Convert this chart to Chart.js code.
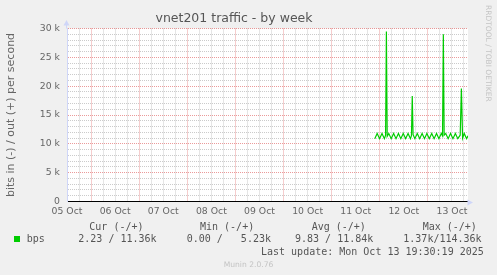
<!DOCTYPE html>
<html><head><meta charset="utf-8">
<script src="https://cdn.jsdelivr.net/npm/chart.js@4.4.1/dist/chart.umd.min.js"></script>
<style>
html,body{margin:0;padding:0;background:#f0f0f0;}
#wrap{position:relative;width:497px;height:275px;overflow:hidden;background:#f0f0f0;}
#c{position:absolute;left:0;top:0;}
.m{position:absolute;white-space:pre;font-family:"DejaVu Sans Mono",monospace;font-size:10px;line-height:12px;color:#555;}
.side{position:absolute;white-space:pre;font-family:"DejaVu Sans",sans-serif;font-size:7.5px;line-height:9px;color:#c4c4c4;}
</style></head><body>
<div id="wrap">
<canvas id="c" width="497" height="275"></canvas>
<div id="legend"></div>
<div class="side" id="rrd" style="left:484px;top:5px;writing-mode:vertical-rl;">RRDTOOL / TOBI OETIKER</div>
<div class="side" id="munin" style="left:0;width:497px;text-align:center;top:259.5px;font-size:7.6px;">Munin 2.0.76</div>
</div>
<script>
// ---- data ----
const chartTitle = 'vnet201 traffic - by week';
const yAxisTitle = 'bits in (-) / out (+) per second';
const dayLabels = ['05 Oct','06 Oct','07 Oct','08 Oct','09 Oct','10 Oct','11 Oct','12 Oct','13 Oct'];
// hours since 05 Oct 00:00
const hours = [165.5,166.7,167.9,169.1,170.3,170.9,171.3,171.7,172.5,173.7,174.9,176.1,177.3,178.5,179.7,180.9,182.1,183.3,183.8,184.2,184.6,185.5,186.7,187.9,189.1,190.3,191.5,192.7,193.9,195.1,196.3,197.5,198.7,199.3,199.7,200.1,200.9,202.1,203.3,204.5,205.7,206.9,208.1,208.7,209.3,210.1,211.3,212.0];
const outBps = [10900,11800,10900,11800,10900,11500,29500,11300,11800,10900,11800,10900,11800,10900,11800,10900,11800,10900,11400,18300,11600,10900,11800,10900,11800,10900,11800,10900,11800,10900,11800,10900,11800,11400,29000,11500,11800,10900,11800,10900,11800,10900,11500,19600,11000,11800,10900,11400];
const legendHeaders = ['Cur (-/+)','Min (-/+)','Avg (-/+)','Max (-/+)'];
const legendSeries = 'bps';
const legendValues = ['2.23 / 11.36k','0.00 /   5.23k','9.83 / 11.84k','1.37k/114.36k'];
const lastUpdate = 'Last update: Mon Oct 13 19:30:19 2025';

// ---- legend (html text) ----
const headerX = [89.3, 200, 311.7, 422.7];
const valueX = [78.3, 186.7, 295, 403.3];
let html = '';
legendHeaders.forEach((h,i)=>{ html += `<div class="m" style="left:${headerX[i]}px;top:221.3px">${h}</div>`; });
html += `<div style="position:absolute;left:14px;top:236px;width:6px;height:6px;background:#00cc00"></div>`;
html += `<div class="m" style="left:26.7px;top:233.3px">${legendSeries}</div>`;
legendValues.forEach((v,i)=>{ html += `<div class="m" style="left:${valueX[i]}px;top:233.3px">${v}</div>`; });
html += `<div class="m" style="left:261px;top:245.7px">${lastUpdate}</div>`;
document.getElementById('legend').innerHTML = html;

// ---- chart ----
const RED = 'rgba(210,30,30,0.45)';
const GREY = 'rgba(130,130,130,0.42)';
const AXIS = '#CFD6F8';
const FONT = '#666666';

const decor = {
  id:'decor',
  beforeDraw(chart){
    const {ctx, chartArea:a} = chart;
    ctx.save(); ctx.fillStyle='#ffffff';
    ctx.fillRect(a.left, a.top, a.right-a.left, a.bottom-a.top);
    ctx.restore();
  },
  afterDraw(chart){
    const {ctx, chartArea:a} = chart;
    ctx.save();
    ctx.strokeStyle = AXIS; ctx.fillStyle = AXIS; ctx.lineWidth = 1;
    const lx = Math.round(a.left)-0.5;
    ctx.beginPath(); ctx.moveTo(lx, a.top); ctx.lineTo(lx, 23); ctx.stroke();
    ctx.beginPath(); ctx.moveTo(lx-3, 25.5); ctx.lineTo(lx+3, 25.5); ctx.lineTo(lx, 20); ctx.closePath(); ctx.fill();
    const by = Math.round(a.bottom)+0.5;
    ctx.beginPath(); ctx.moveTo(a.right, by); ctx.lineTo(470, by); ctx.stroke();
    ctx.beginPath(); ctx.moveTo(467.5, by-3); ctx.lineTo(467.5, by+3); ctx.lineTo(473, by); ctx.closePath(); ctx.fill();
    ctx.restore();
  }
};

new Chart(document.getElementById('c'), {
  type:'line',
  data:{ datasets:[{
    label: legendSeries,
    data: hours.map((h,i)=>({x:h, y:outBps[i]})),
    borderColor:'#00cc00', borderWidth:1.2, pointRadius:0, tension:0, fill:false
  }]},
  options:{
    responsive:false, animation:false, devicePixelRatio:1,
    layout:{ padding:{left:0, right:29, top:0, bottom:0} },
    plugins:{
      legend:{display:false}, tooltip:{enabled:false},
      title:{ display:true, text:chartTitle, color:'#555',
        font:{family:'DejaVu Sans', size:12.5, weight:'normal'}, padding:{top:11.5, bottom:2} }
    },
    scales:{
      x:{ type:'linear', min:12, max:212,
        afterBuildTicks(s){ const t=[]; for(let h=12; h<=210; h+=6) t.push({value:h}); s.ticks=t; },
        afterFit(s){ s.height = 73.5; },
        ticks:{ autoSkip:false, maxRotation:0, padding:5, color:FONT,
          font:{family:'DejaVu Sans', size:9.3},
          callback:(v)=> ((v-12)%24===0 ? dayLabels[(v-12)/24] : '') },
        grid:{ drawTicks:false, color:(c)=> (c.tick && c.tick.value%24===0 ? RED : GREY), lineWidth:1 },
        border:{ display:true, color:'#000000', width:1, dash:[1,1] }
      },
      y:{ type:'linear', min:0, max:30000,
        afterBuildTicks(s){ const t=[]; for(let v=0; v<=30000; v+=1000) t.push({value:v}); s.ticks=t; },
        afterFit(s){ s.width = 67; },
        ticks:{ autoSkip:false, padding:7, color:FONT,
          font:{family:'DejaVu Sans', size:9.3},
          callback:(v)=> (v===0 ? '0' : (v%5000===0 ? (v/1000)+' k' : '')) },
        grid:{ drawTicks:false, lineWidth:1,
          color:(c)=> (!c.tick || c.tick.value===0 ? 'rgba(0,0,0,0)' : (c.tick.value%5000===0 ? RED : GREY)) },
        border:{ display:true, color:AXIS, width:1, dash:[1,1] },
        title:{ display:true, text:yAxisTitle, color:FONT,
          font:{family:'DejaVu Sans', size:11, weight:'normal'}, padding:{top:4.5, bottom:0} }
      }
    }
  },
  plugins:[decor]
});
</script>
</body></html>
